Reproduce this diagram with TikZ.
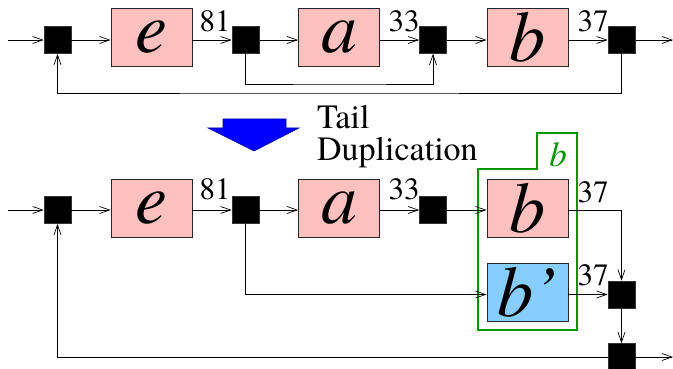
\documentclass[tikz,border=0pt]{standalone}
\usepackage{fontspec}
\setmainfont{texgyretermes}[Extension=.otf, UprightFont=*-regular, ItalicFont=*-italic, BoldFont=*-bold, BoldItalicFont=*-bolditalic]
\usetikzlibrary{arrows.meta}
\definecolor{pinkfill}{RGB}{255,192,192}
\definecolor{bluefill}{RGB}{135,206,255}
\definecolor{figgreen}{RGB}{0,150,0}
\definecolor{arrowblue}{RGB}{0,0,255}
\tikzset{
  blk/.style={draw=black!80, fill=black, minimum size=27pt, inner sep=0pt, line width=0.6pt},
  pinkbox/.style={draw=black!85, fill=pinkfill, minimum width=81pt, minimum height=58pt, inner sep=0pt,
     font=\fontsize{72}{72}\selectfont\itshape, line width=0.8pt},
  bluebox/.style={pinkbox, fill=bluefill},
  num/.style={font=\fontsize{31}{31}\selectfont, inner sep=0pt, anchor=base},
  conn/.style={line width=0.8pt, -{Straight Barb[length=10pt,width=7pt,line width=0.7pt]}},
}
\begin{document}
\begin{tikzpicture}[x=1pt,y=-1pt]
\useasboundingbox (0,0) rectangle (673,369);
% ---------- top row ----------
\coordinate (in1) at (8,40);
\coordinate (out1) at (673,40);
\node[blk] (s1) at (57.5,40) {};
\node[pinkbox] (e) at (151.5,37) {e};
\node[blk] (s2) at (245.5,40) {};
\node[pinkbox] (a) at (339,37) {a};
\node[blk] (s3) at (433,40) {};
\node[pinkbox] (b) at (527.5,37) {b};
\node[blk] (s4) at (621.5,40) {};
\node[num] (l81) at (215,32) {81};
\node[num] (l33) at (404,32) {33};
\node[num] (l37) at (593,32) {37};
\coordinate (fb1) at (340,84);
\coordinate (fb2) at (300,93);
\draw[conn] (in1) -- (s1);
\draw[conn] (s1) -- (s1 -| e.west);
\draw[conn] (e.east |- s1) -- (s2);
\draw[conn] (s2) -- (s2 -| a.west);
\draw[conn] (a.east |- s2) -- (s3);
\draw[conn] (s3) -- (s3 -| b.west);
\draw[conn] (b.east |- s3) -- (s4);
\draw[conn] (s4) -- (out1);
\draw[conn] (s2.south) |- (fb1) -| (s3.south);
\draw[conn] (s4.south) |- (fb2) -| (s1.south);
% ---------- transformation arrow ----------
\fill[arrowblue, draw=blue!60!black, line width=0.6pt]
  (223,119) -- (286,119) -- (286,128) -- (299,128) -- (254,151) -- (208,128) -- (223,128) -- cycle;
\node[anchor=north west, align=left, inner sep=0pt, font=\fontsize{34}{32}\selectfont] (td) at (317,105) {Tail\\Duplication};
% ---------- bottom row ----------
\coordinate (in2) at (8,210);
\coordinate (out2) at (673,357);
\node[blk] (t1) at (57.5,210) {};
\node[pinkbox] (eb) at (151.5,208) {e};
\node[blk] (t2) at (245.5,210) {};
\node[pinkbox] (ab) at (339,208) {a};
\node[blk] (t3) at (433,210) {};
\node[pinkbox] (bb) at (527.5,208) {b};
\node[bluebox] (bp) at (527.5,292) {b’};
\node[blk] (t5) at (621.5,294.5) {};
\node[blk] (t6) at (621.5,357) {};
\draw[figgreen, line width=1.1pt] (478,169) -- (537,169) -- (537,133) -- (577,133) -- (577,330) -- (478,330) -- cycle;
\node[anchor=base, inner sep=0pt, text=figgreen, font=\fontsize{35}{35}\selectfont\itshape] (gb) at (558,167) {b};
\node[num] (m81) at (215,200) {81};
\node[num] (m33) at (404,200) {33};
\node[num] (m37) at (593,202) {37};
\node[num] (n37) at (593,285) {37};
\draw[conn] (in2) -- (t1);
\draw[conn] (t1) -- (t1 -| eb.west);
\draw[conn] (eb.east |- t1) -- (t2);
\draw[conn] (t2) -- (t2 -| ab.west);
\draw[conn] (ab.east |- t2) -- (t3);
\draw[conn] (t3) -- (t3 -| bb.west);
\draw[conn] (bb.east |- t3) -| (t5.north);
\draw[conn] (bp.east |- t5) -- (t5);
\draw[conn] (t5) -- (t6);
\draw[conn] (t6) -- (out2);
\draw[conn] (t6.west) -| (t1.south);
\draw[conn] (t2.south) -- (t2.south |- t5) -- (t5 -| bp.west);
\end{tikzpicture}
\end{document}
